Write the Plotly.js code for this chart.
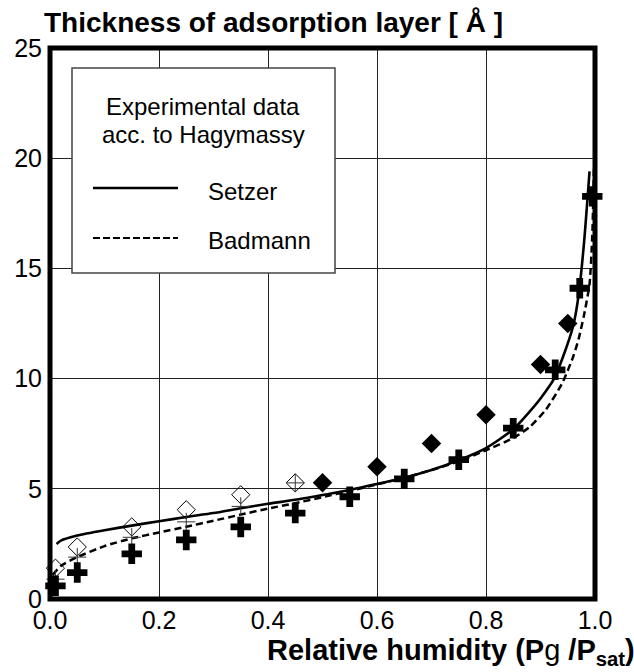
<!DOCTYPE html>
<html>
<head>
<meta charset="utf-8">
<script src="https://cdn.plot.ly/plotly-3.0.1.min.js"></script>
<style>html,body{margin:0;padding:0;background:#fff;}#chart{width:634px;height:672px;}</style>
</head>
<body>
<div id="chart"></div>
<script>
// ---- data ----
var setzerX = [0.012, 0.02, 0.05, 0.1, 0.15, 0.2, 0.25, 0.3, 0.35, 0.4, 0.45, 0.5, 0.55, 0.6, 0.65, 0.7, 0.75, 0.8, 0.85, 0.88, 0.9, 0.925, 0.94, 0.96, 0.97, 0.98, 0.99];
var setzerY = [2.5, 2.65, 2.88, 3.12, 3.33, 3.53, 3.72, 3.9, 4.12, 4.32, 4.5, 4.72, 4.95, 5.22, 5.5, 5.85, 6.3, 6.85, 7.7, 8.5, 9.1, 10.0, 10.9, 12.4, 13.8, 16.2, 19.4];
var badmannX = [0.005, 0.02, 0.05, 0.1, 0.15, 0.2, 0.25, 0.3, 0.35, 0.4, 0.45, 0.5, 0.55, 0.6, 0.65, 0.7, 0.75, 0.8, 0.85, 0.88, 0.91, 0.94, 0.96, 0.97, 0.98, 0.99, 0.995, 0.998];
var badmannY = [1.1, 1.5, 1.9, 2.4, 2.75, 3.02, 3.28, 3.55, 3.83, 4.1, 4.35, 4.62, 4.9, 5.2, 5.5, 5.85, 6.25, 6.75, 7.3, 7.8, 8.6, 9.8, 11.0, 11.8, 12.9, 14.3, 16.5, 19.5];
var openDiamondX = [0.01, 0.05, 0.15, 0.25, 0.35, 0.45];
var openDiamondY = [1.4, 2.36, 3.27, 4.05, 4.73, 5.27];
var thinCrossX = [0.01, 0.05, 0.15, 0.25, 0.35, 0.45];
var thinCrossY = [0.9, 1.9, 2.8, 3.5, 4.2, 5.27];
var filledDiamondX = [0.5, 0.6, 0.7, 0.8, 0.9, 0.95];
var filledDiamondY = [5.27, 6.0, 7.05, 8.36, 10.64, 12.5];
var boldCrossX = [0.01, 0.05, 0.15, 0.25, 0.35, 0.45, 0.55, 0.65, 0.75, 0.85, 0.927, 0.972, 0.995];
var boldCrossY = [0.6, 1.2, 2.05, 2.68, 3.27, 3.9, 4.64, 5.45, 6.32, 7.75, 10.4, 14.1, 18.27];
var xTickVals = [0, 0.2, 0.4, 0.6, 0.8, 1.0];
var xTickText = ['0.0', '0.2', '0.4', '0.6', '0.8', '1.0'];
var yTickVals = [0, 5, 10, 15, 20, 25];
var yTickText = ['0', '5', '10', '15', '20', '25'];
var legendLines = ['Experimental data', 'acc. to Hagymassy'];
var seriesNames = ['Setzer', 'Badmann'];

var FONT = 'Liberation Sans, Arial, Helvetica, sans-serif';

var traces = [
  {x: badmannX, y: badmannY, mode: 'lines', type: 'scatter', name: seriesNames[1],
   line: {color: '#000', width: 2.5, dash: '7px,4px', shape: 'spline', smoothing: 0.6}},
  {x: setzerX, y: setzerY, mode: 'lines', type: 'scatter', name: seriesNames[0],
   line: {color: '#000', width: 2.6, shape: 'spline', smoothing: 0.6}},
  {x: openDiamondX, y: openDiamondY, mode: 'markers', type: 'scatter', cliponaxis: false,
   marker: {symbol: 'diamond-open', size: 14, color: '#000', line: {width: 1, color: '#000'}}},
  {x: thinCrossX, y: thinCrossY, mode: 'markers', type: 'scatter', cliponaxis: false,
   marker: {symbol: 'cross-thin-open', size: 13, color: '#333', line: {width: 1, color: '#333'}}},
  {x: filledDiamondX, y: filledDiamondY, mode: 'markers', type: 'scatter', cliponaxis: false,
   marker: {symbol: 'diamond', size: 15, color: '#000', line: {width: 0}}},
  {x: boldCrossX, y: boldCrossY, mode: 'markers', type: 'scatter', cliponaxis: false,
   marker: {symbol: 'cross', size: 17, color: '#000', line: {width: 0}}}
];

function px2x(p) { return (p - 50) / 545; }
function px2y(p) { return (599 - p) / 551; }

var layout = {
  width: 634, height: 672,
  margin: {l: 50, r: 39, t: 48, b: 73},
  paper_bgcolor: '#fff', plot_bgcolor: '#fff',
  showlegend: false,
  font: {family: FONT, color: '#000'},
  title: {text: 'Thickness of adsorption layer [ Å ]', x: 44 / 634, xanchor: 'left',
          y: 1 - 22 / 672, yanchor: 'middle', xref: 'container', yref: 'container',
          font: {family: FONT, size: 28, weight: 'bold', color: '#000'}},
  xaxis: {range: [0, 1], tickvals: xTickVals, ticktext: xTickText, showgrid: true,
          gridcolor: '#222', gridwidth: 1, zeroline: false, showline: false, ticks: '',
          tickfont: {family: FONT, size: 25, color: '#000'}, ticklabelstandoff: 4},
  yaxis: {range: [0, 25], tickvals: yTickVals, ticktext: yTickText, showgrid: true,
          gridcolor: '#222', gridwidth: 1, zeroline: false, showline: false, ticks: '',
          tickfont: {family: FONT, size: 25, color: '#000'}, ticklabelstandoff: 7},
  shapes: [
    {type: 'rect', xref: 'paper', yref: 'paper', x0: 0, x1: 1, y0: 0, y1: 1,
     line: {color: '#000', width: 5}, layer: 'above'},
    {type: 'rect', xref: 'paper', yref: 'paper', x0: px2x(72), x1: px2x(335), y0: px2y(273), y1: px2y(68),
     line: {color: '#444', width: 1.5}, fillcolor: '#fff', layer: 'above'},
    {type: 'line', xref: 'paper', yref: 'paper', x0: px2x(93), x1: px2x(178), y0: px2y(188), y1: px2y(188),
     line: {color: '#000', width: 2.6}, layer: 'above'},
    {type: 'line', xref: 'paper', yref: 'paper', x0: px2x(93), x1: px2x(178), y0: px2y(238), y1: px2y(238),
     line: {color: '#000', width: 2.2, dash: '7px,3px'}, layer: 'above'}
  ],
  annotations: [
    {xref: 'paper', yref: 'paper', x: px2x(203), y: px2y(106), text: legendLines[0], showarrow: false,
     xanchor: 'center', yanchor: 'middle', font: {family: FONT, size: 24, color: '#000'}},
    {xref: 'paper', yref: 'paper', x: px2x(203), y: px2y(134), text: legendLines[1], showarrow: false,
     xanchor: 'center', yanchor: 'middle', font: {family: FONT, size: 24, color: '#000'}},
    {xref: 'paper', yref: 'paper', x: px2x(206), y: px2y(191), text: seriesNames[0], showarrow: false,
     xanchor: 'left', yanchor: 'middle', font: {family: FONT, size: 24, color: '#000'}},
    {xref: 'paper', yref: 'paper', x: px2x(206), y: px2y(240), text: seriesNames[1], showarrow: false,
     xanchor: 'left', yanchor: 'middle', font: {family: FONT, size: 24, color: '#000'}},
    {xref: 'paper', yref: 'paper', x: px2x(637), y: px2y(652),
     text: 'Relative humidity (P<span style="font-weight:normal">g</span> /P<sub>sat</sub>)',
     showarrow: false, xanchor: 'right', yanchor: 'middle',
     font: {family: FONT, size: 29, weight: 'bold', color: '#000'}}
  ]
};

Plotly.newPlot('chart', traces, layout, {displayModeBar: false, staticPlot: true});
</script>
</body>
</html>
